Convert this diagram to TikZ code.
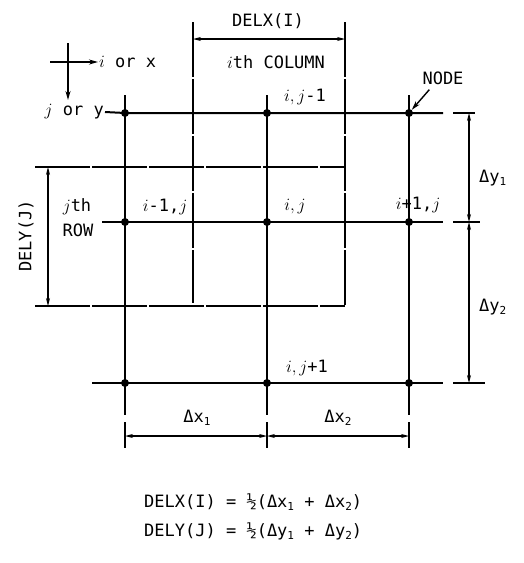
\documentclass[tikz,border=0pt]{standalone}
\usepackage{fontspec}
\setmonofont{DejaVu Sans Mono}
\usetikzlibrary{arrows.meta}
\newcommand\lowsub[1]{\raisebox{-0.35ex}{\fontsize{11}{11}\selectfont #1}}
\begin{document}
\begin{tikzpicture}[x=1pt,y=-1pt,
  font=\ttfamily\fontsize{17}{20}\selectfont,
  grid/.style={line width=2pt},
  thinline/.style={line width=1.2pt, dash pattern=on 55pt off 2pt},
  dimline/.style={line width=1.1pt},
  dimarrow/.style={line width=1.1pt,{Stealth[length=8pt,width=4pt]}-{Stealth[length=8pt,width=4pt]}},
  onearrow/.style={line width=1.4pt,-{Stealth[length=9pt,width=5pt]}},
  dot/.style={circle,fill,inner sep=0pt,minimum size=8pt},
  lbl/.style={inner sep=1pt}]
\useasboundingbox (0,0) rectangle (523,563);

% grid nodes
\node[dot] (p11) at (125,113) {};
\node[dot] (p21) at (267,113) {};
\node[dot] (p31) at (409,113) {};
\node[dot] (p12) at (125,222) {};
\node[dot] (p22) at (267,222) {};
\node[dot] (p32) at (409,222) {};
\node[dot] (p13) at (125,383) {};
\node[dot] (p23) at (267,383) {};
\node[dot] (p33) at (409,383) {};

% column ends
\coordinate (c1t) at (125,95);  \coordinate (c1b) at (125,415);
\coordinate (c2t) at (267,95);  \coordinate (c2b) at (267,415);
\coordinate (c3t) at (409,95);  \coordinate (c3b) at (409,415);
% row ends
\coordinate (r1e) at (443,113);
\coordinate (r2w) at (102,222); \coordinate (r2e) at (443,222);
\coordinate (r3w) at (92,383);  \coordinate (r3e) at (443,383);

% axis legend
\coordinate (ax0) at (50,62); \coordinate (ax1) at (98,62);
\coordinate (ay0) at (68,43); \coordinate (ay1) at (68,100);
\draw[onearrow] (ax0) -- (ax1);
\draw[onearrow] (ay0) -- (ay1);
\node[lbl,anchor=west] (ix) at (ax1) {$i$ or x};
\node[lbl,anchor=east] (jy) at (105,112) {$j$ or y};

% grid lines
\draw[grid] (c1t) -- (p11.center) -- (p12.center) -- (p13.center) -- (c1b);
\draw[grid] (c2t) -- (p21.center) -- (p22.center) -- (p23.center) -- (c2b);
\draw[grid] (c3t) -- (p31.center) -- (p32.center) -- (p33.center) -- (c3b);
\draw[grid] (jy.east) -- (p11.center) -- (p21.center) -- (p31.center) -- (r1e);
\draw[grid] (r2w) -- (p12.center) -- (p22.center) -- (p32.center) -- (r2e);
\draw[grid] (r3w) -- (p13.center) -- (p23.center) -- (p33.center) -- (r3e);

% ith column / jth row boundaries
\coordinate (bl1) at (193,22); \coordinate (bl2) at (193,303);
\coordinate (br1) at (345,22); \coordinate (br2) at (345,306);
\coordinate (rt1) at (35,167); \coordinate (rt2) at (345,167);
\coordinate (rb1) at (35,306);
\draw[thinline] (bl1) -- (bl2);
\draw[thinline] (br1) -- (br2);
\draw[thinline] (rt1) -- (rt2);
\draw[thinline] (rb1) -- (br2);

% DELX(I)
\coordinate (dxa) at (193,39); \coordinate (dxb) at (345,39);
\draw[dimarrow] (dxa) -- (dxb);
\node[lbl] (delx) at (268,21) {DELX(I)};

% DELY(J)
\coordinate (dya) at (48,167); \coordinate (dyb) at (48,306);
\draw[dimarrow] (dya) -- (dyb);
\node[lbl,rotate=90] (dely) at (26,236) {DELY(J)};

% Delta y dimensions
\coordinate (ty1a) at (453,113); \coordinate (ty1b) at (475,113);
\coordinate (ty2a) at (453,222); \coordinate (ty2b) at (480,222);
\coordinate (ty3a) at (453,383); \coordinate (ty3b) at (485,383);
\draw[dimline] (ty1a) -- (ty1b);
\draw[dimline] (ty2a) -- (ty2b);
\draw[dimline] (ty3a) -- (ty3b);
\coordinate (vy1) at (469,113); \coordinate (vy2) at (469,222); \coordinate (vy3) at (469,383);
\draw[dimarrow] (vy1) -- (vy2);
\draw[dimarrow] (vy2) -- (vy3);
\node[lbl,anchor=west] (dy1) at (478,178) {Δy\lowsub{1}};
\node[lbl,anchor=west] (dy2) at (478,307) {Δy\lowsub{2}};

% Delta x dimensions
\coordinate (tx1a) at (125,422); \coordinate (tx1b) at (125,448);
\coordinate (tx2a) at (267,422); \coordinate (tx2b) at (267,448);
\coordinate (tx3a) at (409,422); \coordinate (tx3b) at (409,448);
\draw[dimline] (tx1a) -- (tx1b);
\draw[dimline] (tx2a) -- (tx2b);
\draw[dimline] (tx3a) -- (tx3b);
\coordinate (hx1) at (125,436); \coordinate (hx2) at (267,436); \coordinate (hx3) at (409,436);
\draw[dimarrow] (hx1) -- (hx2);
\draw[dimarrow] (hx2) -- (hx3);
\node[lbl] (dx1) at (197,418) {Δx\lowsub{1}};
\node[lbl] (dx2) at (338,418) {Δx\lowsub{2}};

% labels
\node[lbl] (col) at (276,62) {$i$th COLUMN};
\node[lbl] (lab21) at (305,97) {$i,j$-1};
\node[lbl] (node) at (443,78) {NODE};
\draw[onearrow] (node.south west) ++(8,4) coordinate (na) -- (p31);
\node[lbl] (lab12) at (165,207) {$i$-1,$j$};
\node[lbl] (lab22) at (295,207) {$i,j$};
\node[lbl] (lab32) at (418,205) {$i$+1,$j$};
\node[lbl] (lab23) at (307,368) {$i,j$+1};
\node[lbl] (jth) at (77,207) {$j$th};
\node[lbl] (row) at (78,230) {ROW};

% equations
\node[lbl,anchor=west] (eq1) at (143,502) {DELX(I) = ½(Δx\lowsub{1} + Δx\lowsub{2})};
\node[lbl,anchor=west] (eq2) at (143,531) {DELY(J) = ½(Δy\lowsub{1} + Δy\lowsub{2})};
\end{tikzpicture}
\end{document}
